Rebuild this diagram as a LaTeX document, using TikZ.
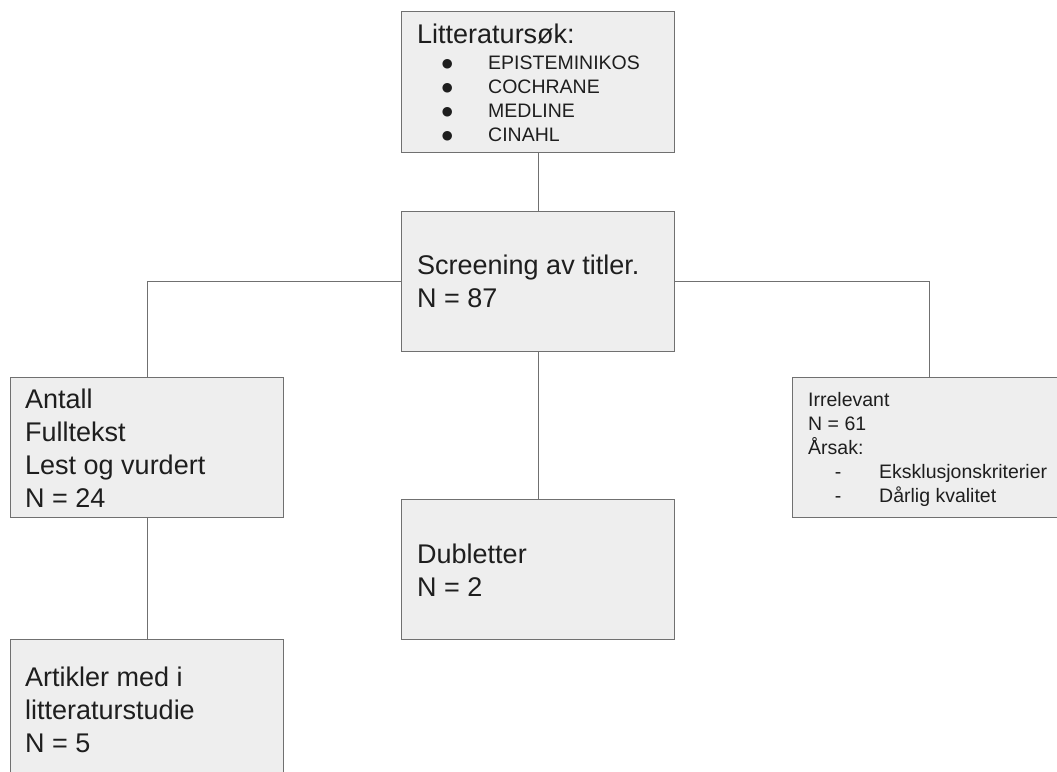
\documentclass[tikz,border=0pt]{standalone}
\usepackage{fontspec}
\setmainfont{Liberation Sans}
\newfontfamily\symfont{DejaVu Sans}
\definecolor{boxfill}{HTML}{EEEEEE}
\definecolor{boxline}{HTML}{707070}
\definecolor{ink}{HTML}{1E1E1E}
\newcommand\listrow[2]{\makebox[71pt][l]{\makebox[60pt][c]{#1}}#2}
\newcommand\lines[1]{\begin{tabular}[t]{@{}l@{}}#1\end{tabular}}
\newcommand\bigdot{\raisebox{1.6pt}{\symfont\fontsize{12.5}{12.5}\selectfont ●}}
\begin{document}
\begin{tikzpicture}[x=1pt,y=-1pt,
  box/.style={draw=boxline,fill=boxfill,line width=1.2pt,inner sep=0,anchor=north west},
  link/.style={draw=boxline,line width=1.2pt},
  big/.style={anchor=base west,inner sep=0,text=ink,font=\fontsize{27}{33}\selectfont},
  small/.style={anchor=base west,inner sep=0,text=ink,font=\fontsize{19.5}{24}\selectfont}]
\useasboundingbox (0,0) rectangle (1057,771);
\clip (0,0) rectangle (1057,771);
% boxes
\node[box,minimum width=273pt,minimum height=141pt] (search) at (401,11) {};
\node[box,minimum width=273pt,minimum height=140pt] (screen) at (401,211) {};
\node[box,minimum width=273pt,minimum height=140pt] (fulltext) at (10,377) {};
\node[box,minimum width=273pt,minimum height=160pt] (articles) at (10,639) {};
\node[box,minimum width=273pt,minimum height=140pt] (dub) at (401,499) {};
\node[box,minimum width=274pt,minimum height=140pt] (irr) at (792,377) {};
% connectors
\draw[link] (search.south) -- (screen.north);
\draw[link] (screen.south) -- (dub.north);
\draw[link] (screen.west) -| (fulltext.north);
\draw[link] (screen.east) -| (irr.north);
\draw[link] (fulltext.south) -- (articles.north);
% texts
\node[big] (searchT) at (417,43) {Litteratursøk:};
\node[small] (searchL) at (417,69) {\lines{\listrow{\bigdot}{EPISTEMINIKOS}\\\listrow{\bigdot}{COCHRANE}\\\listrow{\bigdot}{MEDLINE}\\\listrow{\bigdot}{CINAHL}}};
\node[big] (screenT) at (417,274) {\lines{Screening av titler.\\N = 87}};
\node[big] (fulltextT) at (25,408) {\lines{Antall\\Fulltekst\\Lest og vurdert\\N = 24}};
\node[big] (articlesT) at (25,686) {\lines{Artikler med i\\litteraturstudie\\N = 5}};
\node[big] (dubT) at (417,563) {\lines{Dubletter\\N = 2}};
\node[small] (irrT) at (808,406) {\lines{Irrelevant\\N = 61\\Årsak:\\\listrow{-}{Eksklusjonskriterier}\\\listrow{-}{Dårlig kvalitet}}};
\end{tikzpicture}
\end{document}
